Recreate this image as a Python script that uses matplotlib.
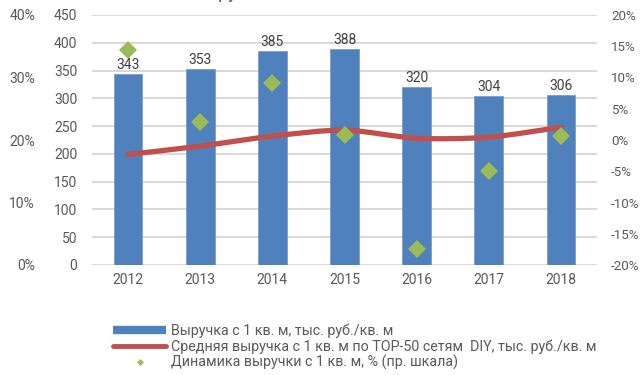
import numpy as np
import matplotlib
matplotlib.use("Agg")
import matplotlib.pyplot as plt
from matplotlib.path import Path
from matplotlib.patches import PathPatch
from matplotlib.lines import Line2D
from matplotlib.ticker import FuncFormatter

plt.rcParams['font.family'] = ['Roboto', 'DejaVu Sans']

years = ['2012', '2013', '2014', '2015', '2016', '2017', '2018']
revenue = [343, 353, 385, 388, 320, 304, 306]
top50_avg = [199, 214, 232, 243, 228, 230, 248]
growth_pct = [14.4, 2.9, 9.1, 0.8, -17.5, -5.0, 0.7]

left_ticks = list(range(0, 451, 50))
right_ticks = list(range(-20, 21, 5))
outer_ticks = list(range(0, 41, 10))

BLUE = '#4F81BD'
RED = '#C0504D'
GREEN = '#9BBB59'
GRID = '#D9D9D9'
TXT = '#595959'
FS = 10

fig = plt.figure(figsize=(6.4, 3.75), dpi=100)
ax = fig.add_axes([92/640, 1-265/375, 505/640, 250/375])

x = np.arange(len(years))
ax.bar(x, revenue, width=0.40, color=BLUE, edgecolor='#7A9DCB',
       linewidth=0.6, zorder=2)
for xi, v in zip(x, revenue):
    ax.text(xi, v + 4, str(v), ha='center', va='bottom', fontsize=FS,
            color='#404040', zorder=5)

ax.set_xlim(-0.5, len(years) - 0.5)
ax.set_ylim(0, 450)
ax.set_yticks(left_ticks)
ax.set_xticks(x)
ax.set_xticklabels(years)
ax.grid(axis='y', color=GRID, linewidth=1.5, zorder=0)
ax.set_axisbelow(True)
for s in ax.spines.values():
    s.set_visible(False)
ax.tick_params(axis='y', length=0, pad=10.5, labelsize=FS, labelcolor=TXT)
ax.tick_params(axis='x', length=0, pad=6, labelsize=FS, labelcolor=TXT)

# smooth average line drawn as cubic Bezier segments through the data points
pts = np.column_stack([x, top50_avg]).astype(float)
verts = [tuple(pts[0])]
codes = [Path.MOVETO]
t = 1/8
for i in range(len(pts) - 1):
    p0 = pts[i - 1] if i > 0 else pts[i]
    p1 = pts[i]
    p2 = pts[i + 1]
    p3 = pts[i + 2] if i + 2 < len(pts) else pts[i + 1]
    c1 = p1 + (p2 - p0) * t
    c2 = p2 - (p3 - p1) * t
    verts += [tuple(c1), tuple(c2), tuple(p2)]
    codes += [Path.CURVE4] * 3
ax.add_patch(PathPatch(Path(verts, codes), facecolor='none', edgecolor=RED,
                       linewidth=3.8, capstyle='round', joinstyle='round',
                       zorder=3))

# right axis: growth, %
axr = ax.twinx()
axr.set_ylim(-20, 20)
axr.set_yticks(right_ticks)
axr.yaxis.set_major_formatter(FuncFormatter(lambda v, p: f'{int(v)}%'))
axr.plot(x, growth_pct, linestyle='none', marker='D', markersize=9,
         color=GREEN, markeredgewidth=0, zorder=4)
for s in axr.spines.values():
    s.set_visible(False)
axr.tick_params(axis='y', length=0, pad=10, labelsize=9.6, labelcolor=TXT)

# outer left percentage scale
axo = ax.twinx()
axo.set_ylim(0, 40)
axo.set_yticks(outer_ticks)
axo.yaxis.set_major_formatter(FuncFormatter(lambda v, p: f'{int(v)}%'))
axo.yaxis.set_ticks_position('left')
axo.yaxis.set_label_position('left')
for s in axo.spines.values():
    s.set_visible(False)
axo.tick_params(axis='y', length=0, pad=41, labelsize=FS, labelcolor=TXT)

fig.text(0.52, 1 + 2/375, 'Выручка с 1 кв. м в 2012-2018 гг.', ha='center',
         va='baseline', fontsize=13, color=TXT)

handles = [
    Line2D([], [], color=BLUE, linewidth=6, solid_capstyle='butt'),
    Line2D([], [], color=RED, linewidth=3.5, solid_capstyle='round'),
    Line2D([], [], color=GREEN, marker='D', markersize=3.5, linestyle='none',
           markeredgewidth=0),
]
labels = [
    'Выручка с 1 кв. м, тыс. руб./кв. м',
    'Средняя выручка с 1 кв. м по TOP-50 сетям  DIY, тыс. руб./кв. м',
    'Динамика выручки с 1 кв. м, % (пр. шкала)',
]
fig.legend(handles, labels, loc='upper left',
           bbox_to_anchor=(106/640, 1 - 316/375), frameon=False,
           fontsize=10.3, labelcolor=TXT, handlelength=3.7,
           handletextpad=0.35, labelspacing=0.1, borderpad=0)

fig.savefig('out.png', dpi=100)
